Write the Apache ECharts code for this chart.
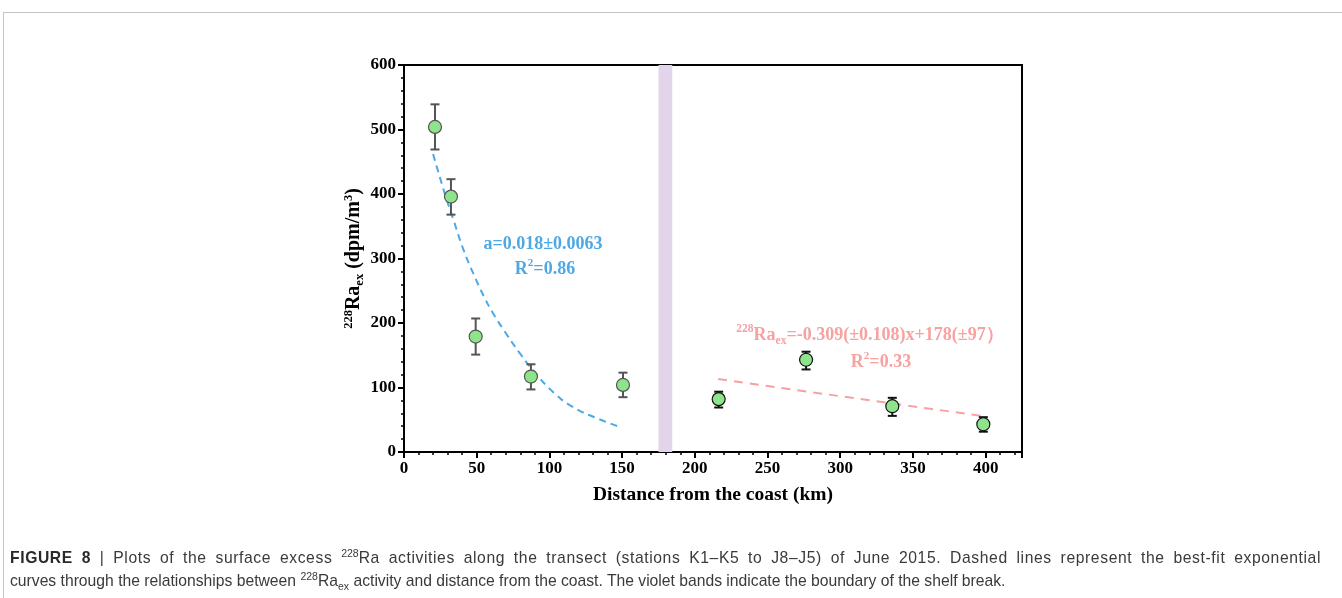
<!DOCTYPE html>
<html>
<head>
<meta charset="utf-8">
<script src="https://cdn.jsdelivr.net/npm/echarts@6/dist/echarts.min.js"></script>
<style>
  html, body { margin: 0; padding: 0; background: #fff; }
  #frame { position: absolute; left: 3px; top: 12px; width: 1339px; height: 586px;
           border-top: 1px solid #c4c4c4; border-left: 1px solid #c4c4c4; }
  #chart { position: absolute; left: 0; top: 0; width: 1342px; height: 598px; }
  #cap { position: absolute; left: 10px; top: 546px; width: 1311px; font-family: 'Liberation Sans', Arial, sans-serif;
         font-size: 15.7px; line-height: 23px; color: #3a3a3a; }
  #cap .l1 { text-align: justify; text-align-last: justify; letter-spacing: 0.6px; }
  #cap .l2 { white-space: nowrap; }
  #cap sup, #cap sub { font-size: 10.5px; line-height: 0; letter-spacing: 0; }
  #cap b { color: #2a2a2a; }
</style>
</head>
<body>
<div id="frame"></div>
<div id="chart"></div>
<div id="cap"><div class="l1"><b>FIGURE 8</b> | Plots of the surface excess <sup>228</sup>Ra activities along the transect (stations K1–K5 to J8–J5) of June 2015. Dashed lines represent the best-fit exponential</div><div class="l2">curves through the relationships between <sup>228</sup>Ra<sub>ex</sub> activity and distance from the coast. The violet bands indicate the boundary of the shelf break.</div></div>
<script>
// ---- data ----
const distance = [21.3, 32.3, 49.3, 87.3, 150.6, 216.4, 276.5, 335.8, 398.4];   // km
const ra228 = [504, 396, 179, 117, 104, 82, 143, 71, 43];                        // dpm/m3
const errLower = [469, 368, 151, 97, 85, 69, 128, 56, 31.5];
const errUpper = [539, 423, 207, 136, 123, 93.5, 155.5, 84, 54];

const expFitX = [20, 28, 34, 41, 48, 55, 61, 71, 80, 89, 103, 116, 133, 147];
const expFitY = [462, 401, 360, 313, 275, 241, 216, 181, 152, 126, 92, 70, 52, 40];

const linFitX = [216, 400];
const linFitY = [113, 55];

const shelfBreak = [175, 184.5];

// ---- styles ----
const SERIF = "'Liberation Serif', 'Times New Roman', serif";
const BLUE = '#4ea8e4';
const RED = '#f7a1a1';
const GREEN = '#8ee48a';

const chart = echarts.init(document.getElementById('chart'), null, { renderer: 'canvas' });

const nearColor = '#555555', farColor = '#111111';
const isShelf = distance.map(d => d < shelfBreak[0]);

const pointData = distance.map((d, i) => ({
  value: [d, ra228[i]],
  itemStyle: { borderColor: isShelf[i] ? nearColor : farColor }
}));
const errData = distance.map((d, i) => [d, errLower[i], errUpper[i], isShelf[i] ? 0 : 1]);

const base = (sz) => ({ fontFamily: SERIF, fontWeight: 'bold', fontSize: sz });

const option = {
  animation: false,
  grid: { left: 404, right: 320, top: 65, bottom: 146, show: true, borderColor: '#000', borderWidth: 2, backgroundColor: 'transparent' },
  xAxis: {
    type: 'value', min: 0, max: 425, interval: 50,
    name: 'Distance from the coast (km)', nameLocation: 'middle', nameGap: 33,
    nameTextStyle: Object.assign(base(19.5), { color: '#000' }),
    axisLine: { show: true, lineStyle: { color: '#000', width: 2 } },
    axisTick: { show: true, inside: false, length: 6, lineStyle: { color: '#000', width: 2 } },
    minorTick: { show: true, splitNumber: 5, length: 3, lineStyle: { color: '#000', width: 1.5 } },
    axisLabel: Object.assign(base(17), { color: '#000', margin: 8, showMaxLabel: false }),
    splitLine: { show: false }
  },
  yAxis: {
    type: 'value', min: 0, max: 600, interval: 100,
    name: '{sup|228}{b|Ra}{sub|ex}{b| (dpm/m}{sup|3}{b|)}',
    nameLocation: 'middle', nameGap: 38, nameRotate: 90,
    nameTextStyle: Object.assign(base(20), {
      color: '#000',
      rich: {
        b: Object.assign(base(20), { color: '#000', lineHeight: 24 }),
        sup: Object.assign(base(12.5), { color: '#000', lineHeight: 12, verticalAlign: 'top' }),
        sub: Object.assign(base(12.5), { color: '#000', lineHeight: 12, verticalAlign: 'bottom' })
      }
    }),
    axisLine: { show: true, lineStyle: { color: '#000', width: 2 } },
    axisTick: { show: true, inside: false, length: 6, lineStyle: { color: '#000', width: 2 } },
    minorTick: { show: true, splitNumber: 5, length: 3, lineStyle: { color: '#000', width: 1.5 } },
    axisLabel: Object.assign(base(17), { color: '#000', margin: 8 }),
    splitLine: { show: false }
  },
  series: [
    {
      type: 'line', name: 'band', data: [], silent: true,
      markArea: {
        silent: true,
        itemStyle: { color: '#e2d5eb' },
        data: [[{ xAxis: shelfBreak[0] }, { xAxis: shelfBreak[1] }]]
      }
    },
    {
      type: 'line', name: 'exp fit', smooth: 0.5, showSymbol: false, z: 3,
      data: expFitX.map((x, i) => [x, expFitY[i]]),
      lineStyle: { color: BLUE, width: 2, type: [7, 5] }
    },
    {
      type: 'line', name: 'linear fit', showSymbol: false, z: 3,
      data: linFitX.map((x, i) => [x, linFitY[i]]),
      lineStyle: { color: RED, width: 2, type: [9, 7] }
    },
    {
      type: 'custom', name: 'error', z: 4,
      data: errData,
      encode: { x: 0, y: [1, 2] },
      renderItem: function (params, api) {
        const x = api.value(0);
        const lo = api.coord([x, api.value(1)]);
        const hi = api.coord([x, api.value(2)]);
        const col = api.value(3) ? farColor : nearColor;
        const c = 4.5;
        const st = { stroke: col, lineWidth: 2 };
        return {
          type: 'group',
          children: [
            { type: 'line', shape: { x1: lo[0], y1: lo[1], x2: hi[0], y2: hi[1] }, style: st },
            { type: 'line', shape: { x1: lo[0] - c, y1: lo[1], x2: lo[0] + c, y2: lo[1] }, style: st },
            { type: 'line', shape: { x1: hi[0] - c, y1: hi[1], x2: hi[0] + c, y2: hi[1] }, style: st }
          ]
        };
      }
    },
    {
      type: 'scatter', name: '228Ra', z: 5,
      symbol: 'circle', symbolSize: 13,
      data: pointData,
      itemStyle: { color: GREEN, borderWidth: 1.2, opacity: 1 }
    }
  ],
  graphic: [
    {
      type: 'text', x: 543, y: 244,
      style: Object.assign(base(18), { text: 'a=0.018±0.0063', fill: BLUE, align: 'center', verticalAlign: 'middle' })
    },
    {
      type: 'text', x: 545, y: 269,
      style: Object.assign(base(18), {
        text: '{b|R}{sup|2}{b|=0.86}', fill: BLUE, align: 'center', verticalAlign: 'middle',
        rich: {
          b: Object.assign(base(18), { fill: BLUE, lineHeight: 22 }),
          sup: Object.assign(base(11), { fill: BLUE, lineHeight: 12, verticalAlign: 'top' })
        }
      })
    },
    {
      type: 'text', x: 870, y: 335,
      style: Object.assign(base(18), {
        text: '{sup|228}{b|Ra}{sub|ex}{b|=-0.309(±0.108)x+178(±97）}', fill: RED, align: 'center', verticalAlign: 'middle',
        rich: {
          b: Object.assign(base(18), { fill: RED, lineHeight: 24 }),
          sup: Object.assign(base(11.5), { fill: RED, lineHeight: 12, verticalAlign: 'top' }),
          sub: Object.assign(base(11.5), { fill: RED, lineHeight: 12, verticalAlign: 'bottom' })
        }
      })
    },
    {
      type: 'text', x: 881, y: 362,
      style: Object.assign(base(18), {
        text: '{b|R}{sup|2}{b|=0.33}', fill: RED, align: 'center', verticalAlign: 'middle',
        rich: {
          b: Object.assign(base(18), { fill: RED, lineHeight: 22 }),
          sup: Object.assign(base(11), { fill: RED, lineHeight: 12, verticalAlign: 'top' })
        }
      })
    }
  ]
};
chart.setOption(option);
</script>
</body>
</html>
